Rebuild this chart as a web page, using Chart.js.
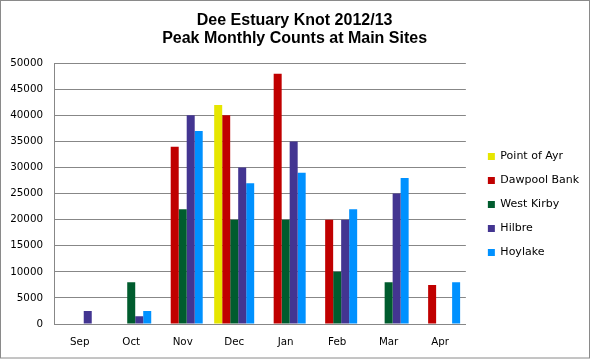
<!DOCTYPE html>
<html>
<head>
<meta charset="utf-8">
<script src="https://cdn.jsdelivr.net/npm/chart.js@4/dist/chart.umd.min.js"></script>
<style>
  html, body { margin: 0; padding: 0; background: #fff; }
  #wrap { width: 590px; height: 359px; position: relative; }
</style>
</head>
<body>
<div id="wrap"><canvas id="c" width="590" height="359"></canvas></div>
<script>
const titleLines = ['Dee Estuary Knot 2012/13', 'Peak Monthly Counts at Main Sites'];
const months = ['Sep', 'Oct', 'Nov', 'Dec', 'Jan', 'Feb', 'Mar', 'Apr'];
const sites = ['Point of Ayr', 'Dawpool Bank', 'West Kirby', 'Hilbre', 'Hoylake'];
const pointOfAyr  = [null, null, null, 42000, null, null, null, null];
const dawpoolBank = [null, null, 34000, 40000, 48000, 20000, null, 7500];
const westKirby   = [null, 8000, 22000, 20000, 20000, 10000, 8000, null];
const hilbre      = [2500, 1500, 40000, 30000, 35000, 20000, 25000, null];
const hoylake     = [null, 2500, 37000, 27000, 29000, 22000, 28000, 8000];
const yMin = 0, yMax = 50000, yStep = 5000;

const seriesValues = [pointOfAyr, dawpoolBank, westKirby, hilbre, hoylake];
const seriesColors = ['#E6E600', '#C00000', '#005C2E', '#433591', '#0091FF'];

const frame = {
  id: 'frame',
  afterDraw(chart) {
    const ctx = chart.ctx;
    ctx.save();
    ctx.strokeStyle = '#8A8A8A';
    ctx.lineWidth = 1;
    ctx.strokeRect(0.5, 0.5, chart.width - 1, chart.height - 1.5);
    ctx.restore();
  }
};

new Chart(document.getElementById('c'), {
  type: 'bar',
  data: {
    labels: months,
    datasets: sites.map((s, i) => ({
      label: s,
      data: seriesValues[i],
      backgroundColor: seriesColors[i],
      borderWidth: 0,
      categoryPercentage: 0.777,
      barPercentage: 1.0
    }))
  },
  options: {
    responsive: false,
    animation: false,
    devicePixelRatio: 1,
    layout: { padding: { left: 0, right: 0.8, top: 0, bottom: 0 } },
    plugins: {
      tooltip: { enabled: false },
      title: {
        display: true,
        text: titleLines,
        color: '#000',
        font: { family: '"Liberation Sans", Arial, sans-serif', size: 16, weight: 'bold', lineHeight: 1.1 },
        padding: { top: 12, bottom: 16 }
      },
      legend: {
        position: 'right',
        align: 'center',
        maxWidth: 200,
        title: { display: true, text: ' ', font: { size: 10, lineHeight: 1.2 }, padding: 19 },
        labels: {
          boxWidth: 7,
          boxHeight: 7,
          padding: 13,
          color: '#000',
          font: { family: '"DejaVu Sans", Verdana, sans-serif', size: 11 }
        }
      }
    },
    scales: {
      x: {
        grid: { display: false, drawTicks: false },
        border: { display: true, color: '#878787', width: 1 },
        ticks: { color: '#000', padding: 12, font: { family: '"DejaVu Sans", Verdana, sans-serif', size: 10.3 } },
        afterFit(s) { s.height = 35; }
      },
      y: {
        min: yMin,
        max: yMax,
        grid: { color: '#878787', lineWidth: 1, drawTicks: false },
        border: { display: true, color: '#878787', width: 1 },
        ticks: {
          stepSize: yStep,
          padding: 11,
          color: '#000',
          font: { family: '"DejaVu Sans", Verdana, sans-serif', size: 10.3 },
          callback: v => String(v)
        },
        afterFit(s) { s.width = 54; }
      },
      spacer: {
        type: 'linear',
        position: 'right',
        display: true,
        grid: { display: false, drawTicks: false },
        border: { display: false },
        ticks: { display: false },
        afterFit(s) { s.width = 9; }
      }
    }
  },
  plugins: [frame]
});
</script>
</body>
</html>
